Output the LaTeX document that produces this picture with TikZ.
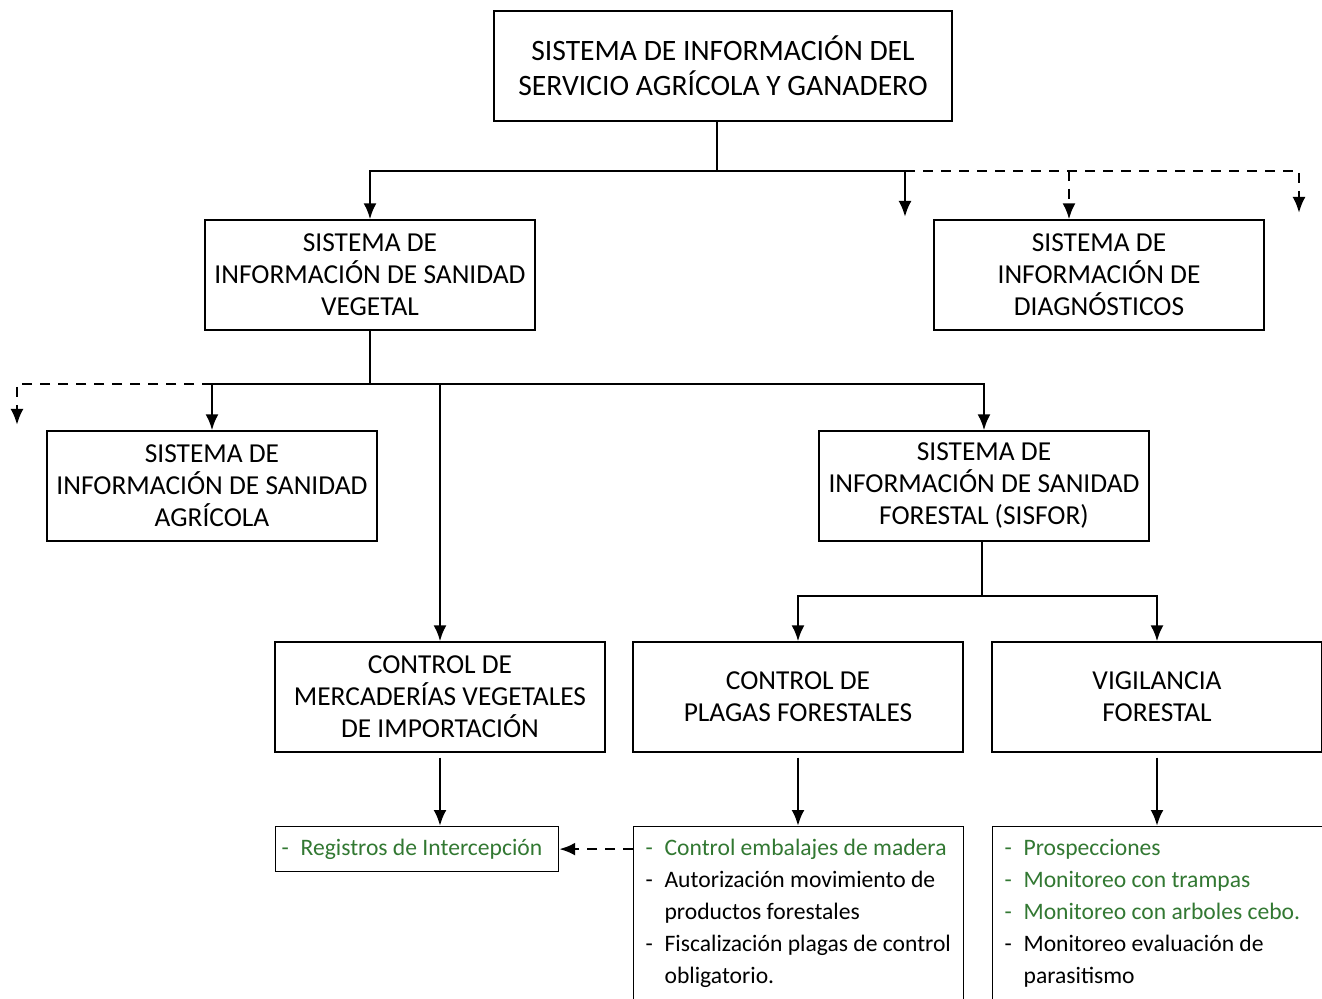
\documentclass[tikz,border=0pt]{standalone}
\usepackage{fontspec}
\setmainfont{Carlito}
\usetikzlibrary{positioning,calc,arrows.meta}
\definecolor{SagGreen}{RGB}{50,120,50}
\tikzset{
  box/.style={draw=black,line width=0.6pt,minimum width=165pt,minimum height=55pt,inner sep=2pt,align=center,font=\fontsize{13.7}{16}\selectfont},
  listbox/.style={draw=black,line width=0.6pt,anchor=north west,inner xsep=6pt,inner ysep=6.5pt,font=\fontsize{11.8}{16}\selectfont},
  ribox/.style={draw=black,line width=0.6pt,anchor=north west,inner xsep=3pt,minimum height=22.5pt,text=SagGreen,font=\fontsize{11.8}{16}\selectfont},
  line/.style={line width=1.35pt},
  arr/.style={line width=1.35pt,-{Latex[length=8pt,width=6.5pt]}},
  darr/.style={arr,dash pattern=on 5pt off 4pt},
}
\newcommand{\itm}[1]{\mbox{\makebox[9.5pt][l]{-}#1}}
\newcommand{\cont}[1]{\mbox{\hspace*{9.5pt}#1}}
\newcommand{\listtext}[1]{\parbox[t][84pt][t]{153pt}{\raggedright #1}}

\begin{document}
\begin{tikzpicture}[x=0.5pt,y=-0.5pt]
\useasboundingbox (0,0) rectangle (1322,999);
% boxes
\node[box,minimum width=229pt,font=\fontsize{14.8}{17.5}\selectfont] (sag) at (723,66) {SISTEMA DE INFORMACIÓN DEL\\SERVICIO AGRÍCOLA Y GANADERO};
\node[box] (sv) at (370,275) {SISTEMA DE\\INFORMACIÓN DE SANIDAD\\VEGETAL};
\node[box] (diag) at (1099,275) {SISTEMA DE\\INFORMACIÓN DE\\DIAGNÓSTICOS};
\node[box] (sa) at (212,486) {SISTEMA DE\\INFORMACIÓN DE SANIDAD\\AGRÍCOLA};
\node[box] (sisfor) at (984,486) {SISTEMA DE\\INFORMACIÓN DE SANIDAD\\FORESTAL (SISFOR)};
\node[box] (cmv) at (440,697) {CONTROL DE\\MERCADERÍAS VEGETALES\\DE IMPORTACIÓN};
\node[box] (cpf) at (798,697) {CONTROL DE\\PLAGAS FORESTALES};
\node[box] (vf) at (1157,697) {VIGILANCIA\\FORESTAL};
\node[ribox] (ri) at (275,826) {\makebox[135.5pt][l]{\itm{Registros de Intercepción}}};
\node[listbox] (cpfl) at (633,826) {\listtext{\textcolor{SagGreen}{\itm{Control embalajes de madera}}\\
  \itm{Autorización movimiento de}\\\cont{productos forestales}\\
  \itm{Fiscalización plagas de control}\\\cont{obligatorio.}}};
\node[listbox] (vfl) at (992,826) {\listtext{\textcolor{SagGreen}{\itm{Prospecciones}}\\
  \textcolor{SagGreen}{\itm{Monitoreo con trampas}}\\
  \textcolor{SagGreen}{\itm{Monitoreo con arboles cebo.}}\\
  \itm{Monitoreo evaluación de}\\\cont{parasitismo}}};
% first level
\coordinate (j1) at (717,171);
\coordinate (j2) at (905,171);
\coordinate (e1) at (905,217);
\coordinate (e2) at (1299,213);
\coordinate (dt) at ([xshift=-15pt]diag.north);
\draw[line] (sag.south -| j1) -- (j1);
\draw[arr] (j1) -| (sv.north);
\draw[arr] (j1) -| (e1);
\draw[darr] (j2) -| (e2);
\draw[darr] (dt |- j2) -- (dt);
% second level
\coordinate (j3) at (370,384);
\coordinate (e3) at (17,425);
\draw[line] (sv.south) -- (j3);
\draw[arr] (j3) -| (sa.north);
\draw[arr] (j3) -| (sisfor.north);
\draw[arr] (cmv.north |- j3) -- (cmv.north);
\draw[darr] (sa.north |- j3) -| (e3);
% sisfor
\coordinate (j4) at (982,596);
\draw[line] (sisfor.south -| j4) -- (j4);
\draw[arr] (j4) -| (cpf.north);
\draw[arr] (j4) -| (vf.north);
% lists
\draw[arr] ([yshift=-2.5pt]cmv.south) -- (cmv.south |- ri.north);
\draw[arr] ([yshift=-2.5pt]cpf.south) -- (cpf.south |- cpfl.north);
\draw[arr] ([yshift=-2.5pt]vf.south) -- (vf.south |- vfl.north);
\draw[darr] (cpfl.west |- ri.east) -- (ri.east);
\end{tikzpicture}
\end{document}
